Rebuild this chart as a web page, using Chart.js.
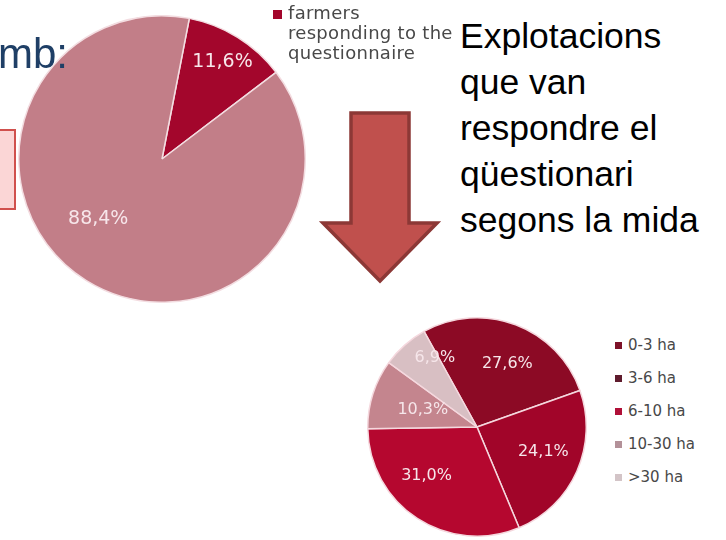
<!DOCTYPE html>
<html>
<head>
<meta charset="utf-8">
<script src="https://cdn.jsdelivr.net/npm/chart.js@4.4.1/dist/chart.umd.min.js"></script>
<style>
  html, body { margin:0; padding:0; background:#fff; }
  body { width:726px; height:540px; position:relative; overflow:hidden; font-family:"Liberation Sans", Arial, sans-serif; }
  .abs { position:absolute; }
  #mb { left:-30px; top:30px; font-size:42px; color:#1F3F66; font-family:"Liberation Sans", Arial, sans-serif; white-space:nowrap; z-index:5; }
  #redbox { left:-4px; top:129px; width:16px; height:77px; border:2px solid #D0504D; background:#FBD6D6; }
  #cat { left:460px; top:13px; font-size:35.5px; line-height:46px; color:#000; font-family:"Liberation Sans", Arial, sans-serif; white-space:nowrap; }
  .leg { font-family:"DejaVu Sans", sans-serif; color:#484848; }
  .leg .row { position:relative; white-space:nowrap; }
  .leg .sw { position:absolute; }
  #bigLeg { left:288px; top:3px; font-size:18px; line-height:20px; letter-spacing:0.3px; }
  #smallLeg { left:628px; top:329px; font-size:15px; line-height:33px; }
</style>
</head>
<body>
<div id="mb" class="abs">Àmb:</div>
<div id="redbox" class="abs"></div>

<div class="abs" style="left:18px; top:15px; width:288px; height:288px;">
  <canvas id="bigPie" width="288" height="288"></canvas>
</div>
<div id="bigLeg" class="abs leg"></div>

<svg class="abs" style="left:318px; top:106px;" width="126" height="184">
  <polygon points="33,7 91,7 91,117 119,117 62,175 5,117 33,117" fill="#C0504D" stroke="#8C3836" stroke-width="3.5" stroke-linejoin="miter"/>
</svg>

<div id="cat" class="abs">Explotacions<br>que van<br>respondre el<br>qüestionari<br>segons la mida</div>

<div class="abs" style="left:367px; top:317px; width:220px; height:220px;">
  <canvas id="smallPie" width="220" height="220"></canvas>
</div>
<div id="smallLeg" class="abs leg"></div>

<script>
// ---- Data ----
const bigLabels = ["farmers responding to the questionnaire", "other farmers"];
const bigValues = [11.6, 88.4];
const bigColors = ["#A3062C", "#C27E88"];

const sizeLabels = ["0-3 ha", "3-6 ha", "6-10 ha", "10-30 ha", ">30 ha"];
const sizeValues = [27.6, 24.1, 31.0, 10.3, 6.9];
const sizeColors = ["#8C0A25", "#A10529", "#B5072F", "#C4858E", "#D8BFC3"];
const sizeLegendColors = ["#7E1229", "#5F1B2D", "#B01038", "#B39199", "#D3C4C7"];

// ---- label plugin ----
const pctLabels = {
  id: 'pctLabels',
  afterDatasetsDraw(chart, args, opts) {
    const ctx = chart.ctx;
    const meta = chart.getDatasetMeta(0);
    const ds = chart.data.datasets[0];
    ctx.save();
    ctx.font = opts.font;
    ctx.fillStyle = opts.color;
    ctx.textAlign = 'center';
    ctx.textBaseline = 'middle';
    meta.data.forEach((arc, i) => {
      const p = arc.getProps(['x','y','startAngle','endAngle','outerRadius'], true);
      const mid = (p.startAngle + p.endAngle) / 2 + (opts.angleShift[i] || 0) * Math.PI / 180;
      const r = p.outerRadius * opts.radius[i];
      const txt = ds.data[i].toFixed(1).replace('.', ',') + '%';
      ctx.fillText(txt, p.x + Math.cos(mid) * r, p.y + Math.sin(mid) * r);
    });
    ctx.restore();
  }
};

function pie(id, labels, values, colors, rotation, labelOpts, border) {
  return new Chart(document.getElementById(id), {
    type: 'pie',
    data: { labels: labels, datasets: [{ data: values, backgroundColor: colors, borderColor: border, borderWidth: 1.5, hoverOffset: 0 }] },
    options: {
      responsive: false, animation: false, rotation: rotation,
      layout: { padding: 0 },
      plugins: { legend: { display: false }, tooltip: { enabled: false }, pctLabels: labelOpts }
    },
    plugins: [pctLabels]
  });
}

pie('bigPie', bigLabels, bigValues, bigColors, 11,
  { font: '19px "DejaVu Sans", sans-serif', color: '#F7E6EA', radius: [0.8, 0.61], angleShift: [0, 15] }, '#F3DDE1');
pie('smallPie', sizeLabels, sizeValues, sizeColors, -29,
  { font: '16px "DejaVu Sans", sans-serif', color: '#F6E6EA', radius: [0.64, 0.65, 0.64, 0.52, 0.74], angleShift: [5, -3, 13, 0, 10] }, '#F5D8DE');

// ---- legends ----
const bigLeg = document.getElementById('bigLeg');
const bl = document.createElement('div');
bl.className = 'row';
bl.innerHTML = '<span class="sw" style="left:-15px; top:7px; width:9px; height:9px; background:' + bigColors[0] + '"></span>farmers<br>responding to the<br>questionnaire';
bigLeg.appendChild(bl);

const smallLeg = document.getElementById('smallLeg');
sizeLabels.forEach((l, i) => {
  const d = document.createElement('div');
  d.className = 'row';
  d.innerHTML = '<span class="sw" style="left:-13px; top:13px; width:7px; height:7px; background:' + sizeLegendColors[i] + '"></span>' + l.replace('>', '&gt;');
  smallLeg.appendChild(d);
});
</script>
</body>
</html>
